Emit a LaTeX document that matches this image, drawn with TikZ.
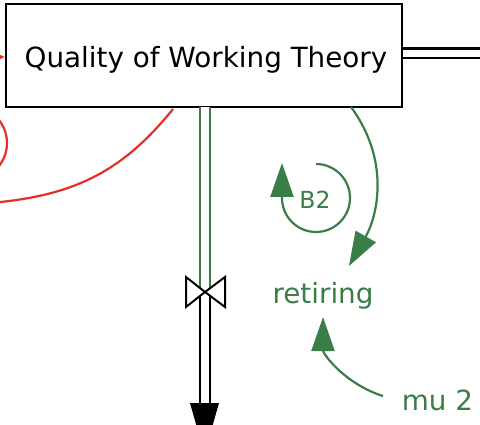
\documentclass[tikz,border=0pt]{standalone}
\usepackage{fontspec}
\setmainfont{DejaVu Sans}
\usetikzlibrary{arrows.meta}
\definecolor{sdgreen}{RGB}{58,125,70}
\definecolor{sdred}{RGB}{228,48,38}
\tikzset{
  stock/.style={draw=black, line width=2.2pt, minimum width=396pt, minimum height=103pt, inner sep=0pt},
  bigtxt/.style={font=\fontsize{27.8}{30}\selectfont, inner sep=0pt},
  greentxt/.style={bigtxt, text=sdgreen},
  infl/.style={draw=sdgreen, line width=2.2pt, -{Triangle[length=34pt,width=23pt]}},
  redinfl/.style={draw=sdred, line width=2.2pt},
  pipe/.style={double distance=7.6pt, line width=2.2pt},
}
\begin{document}
\begin{tikzpicture}[x=1pt,y=1pt]
\useasboundingbox (0,0) rectangle (480,424);
\clip (0,0) rectangle (480,424);
% stock
\node[stock] (qwt) at (204,368.5) {};
\node[bigtxt, anchor=base] (qwtlabel) at (206,356) {Quality of Working Theory};
% outgoing pipe to right
\coordinate (rightend) at (490,370.5);
\draw[pipe, draw=black] (qwt.east |- rightend) -- (rightend);
% red elements on the left
\coordinate (redin) at (-40,367);
\draw[redinfl, -{Triangle[length=12pt,width=10pt]}] (redin) -- (qwt.west |- redin);
\coordinate (redc) at (-30,281);
\draw[redinfl] (redc) circle[radius=37pt];
\coordinate (reds) at (173,315);
\coordinate (rede) at (-4,221.5);
\draw[redinfl] (reds) .. controls (120,249) and (70,229) .. (rede);
% outflow pipe
\coordinate (valve) at (205,132);
\coordinate (cloud) at (205,21);
\draw[pipe, draw=sdgreen] (205,317) -- (valve);
\draw[pipe, draw=black] (valve) -- (cloud);
\draw[black, line width=2pt, fill=white] (186,147) -- (186,117) -- (valve) -- cycle;
\draw[black, line width=2pt, fill=white] (225,147) -- (225,117) -- (valve) -- cycle;
\fill[black] (190,21) -- (219,21) -- (204.5,-30) -- cycle;
% flow label
\node[greentxt, anchor=base] (ret) at (323,121) {retiring};
\node[greentxt, anchor=base] (mu) at (437.5,14) {mu 2};
% influences
\coordinate (qs) at (351,317);
\coordinate (rtop) at (349,158);
\draw[infl] (qs) .. controls (390,264) and (378,209) .. (rtop);
\coordinate (mus) at (383,28);
\coordinate (rbot) at (323,107);
\draw[infl] (mus) .. controls (345,40) and (323,70) .. (rbot);
% loop B2
\node[font=\fontsize{23.5}{26}\selectfont, text=sdgreen, inner sep=0pt, anchor=base] (b2) at (315,215) {B2};
\coordinate (loopc) at (316,226);
\coordinate (looptip) at (282,261);
\draw[infl] (316,260) arc[start angle=90, end angle=-180, radius=34pt] -- (looptip);
\end{tikzpicture}
\end{document}
